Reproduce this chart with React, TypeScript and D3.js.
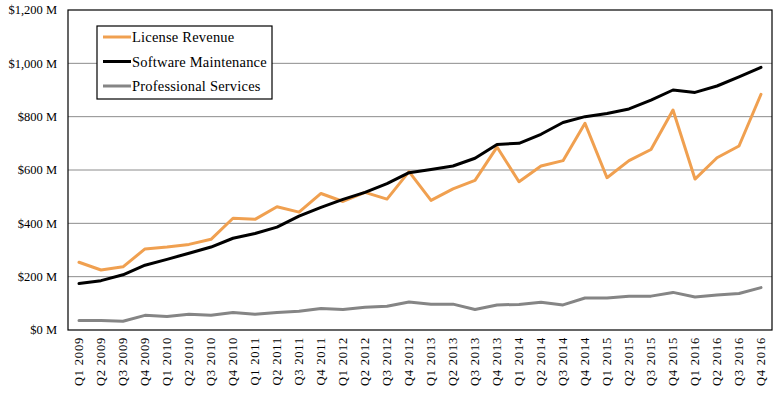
import React from "react";
import * as d3 from "d3";

const quarters = [
  "Q1 2009","Q2 2009","Q3 2009","Q4 2009",
  "Q1 2010","Q2 2010","Q3 2010","Q4 2010",
  "Q1 2011","Q2 2011","Q3 2011","Q4 2011",
  "Q1 2012","Q2 2012","Q3 2012","Q4 2012",
  "Q1 2013","Q2 2013","Q3 2013","Q4 2013",
  "Q1 2014","Q2 2014","Q3 2014","Q4 2014",
  "Q1 2015","Q2 2015","Q3 2015","Q4 2015",
  "Q1 2016","Q2 2016","Q3 2016","Q4 2016",
];

const licenseRevenue = [
  254, 225, 237, 304, 311, 321, 340, 419,
  415, 462, 442, 512, 482, 516, 491, 594,
  486, 529, 561, 686, 556, 615, 635, 775,
  571, 635, 677, 825, 566, 646, 690, 884,
];

const softwareMaintenance = [
  174, 185, 207, 243, 265, 288, 311, 344,
  362, 386, 427, 460, 490, 516, 549, 590,
  602, 615, 644, 696, 700, 734, 778, 800,
  812, 829, 862, 900, 891, 915, 949, 985,
];

const professionalServices = [
  36, 36, 33, 55, 51, 59, 55, 66,
  59, 66, 70, 81, 77, 85, 89, 105,
  97, 97, 77, 94, 96, 104, 94, 120,
  120, 127, 127, 141, 124, 131, 137, 159,
];

const yTicks = [0, 200, 400, 600, 800, 1000, 1200];

const seriesNames = ["License Revenue", "Software Maintenance", "Professional Services"];
const seriesColors = ["#F0A050", "#000000", "#858585"];

const W = 784;
const H = 393;
const left = 68;
const right = 772;
const top = 10;
const bottom = 330;
const font = "'Liberation Serif', 'Times New Roman', serif";

function fmt(v: number) {
  return "$" + d3.format(",")(v) + " M";
}

export default function App() {
  const x = d3.scaleBand<string>().domain(quarters).range([left, right]).padding(0);
  const y = d3.scaleLinear().domain([0, 1200]).range([bottom, top]);
  const seriesData = [licenseRevenue, softwareMaintenance, professionalServices];
  const line = d3
    .line<number>()
    .x((_, i) => (x(quarters[i]) as number) + x.bandwidth() / 2)
    .y((d) => y(d));

  return (
    <svg
      width={W}
      height={H}
      style={{ position: "absolute", left: 0, top: 0, background: "#fff" }}
      fontFamily={font}
    >
      {yTicks.map((t) => (
        <g key={t}>
          {t > 0 && t < 1200 && (
            <line x1={left} x2={right} y1={y(t)} y2={y(t)} stroke="#8c8c8c" strokeWidth={1} />
          )}
          <text x={57} y={y(t)} dy="0.35em" textAnchor="end" fontSize={12.5} fill="#000">
            {fmt(t)}
          </text>
        </g>
      ))}
      <rect x={left} y={top} width={right - left} height={bottom - top} fill="none" stroke="#000" strokeWidth={1.2} />
      {quarters.map((q) => {
        const cx = (x(q) as number) + x.bandwidth() / 2;
        return (
          <text
            key={q}
            transform={`translate(${cx},${bottom + 7}) rotate(-90)`}
            textAnchor="end"
            dy="0.35em"
            fontSize={12.5}
            letterSpacing={0.8}
            fill="#000"
          >
            {q}
          </text>
        );
      })}
      {seriesData.map((s, i) => (
        <path
          key={seriesNames[i]}
          d={line(s) || ""}
          fill="none"
          stroke={seriesColors[i]}
          strokeWidth={3}
          strokeLinejoin="round"
          strokeLinecap="round"
        />
      ))}
      <rect x={97} y={26} width={175} height={73} fill="#fff" stroke="#000" strokeWidth={1.2} />
      {seriesNames.map((n, i) => {
        const cy = 37 + i * 24.5;
        return (
          <g key={n}>
            <line x1={103} x2={131} y1={cy} y2={cy} stroke={seriesColors[i]} strokeWidth={3} />
            <text x={132} y={cy} dy="0.35em" fontSize={14.5} letterSpacing={0.2} fill="#000">
              {n}
            </text>
          </g>
        );
      })}
    </svg>
  );
}
